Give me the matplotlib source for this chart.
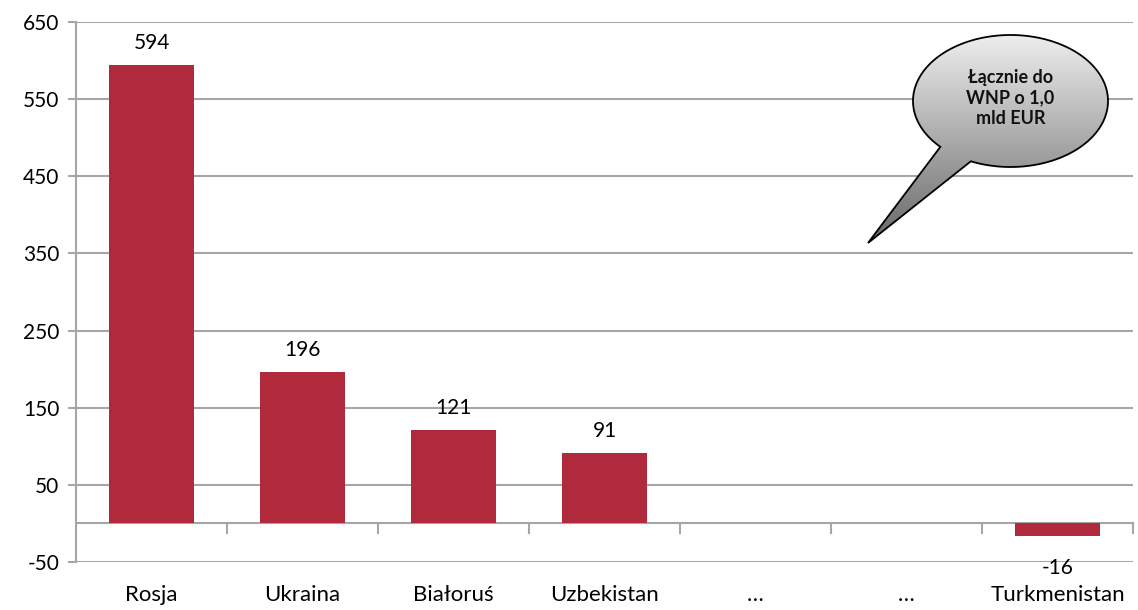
import numpy as np
import matplotlib
matplotlib.use("Agg")
import matplotlib.pyplot as plt
from matplotlib.path import Path
from matplotlib.patches import PathPatch

plt.rcParams['font.family'] = ['Lato', 'DejaVu Sans']

categories = ["Rosja", "Ukraina", "Białoruś", "Uzbekistan", "…", "…", "Turkmenistan"]
values = [594, 196, 121, 91, None, None, -16]
yticks = [-50, 50, 150, 250, 350, 450, 550, 650]
bubble_text = "Łącznie do\nWNP o 1,0\nmld EUR"

W, H = 1138, 610
fig = plt.figure(figsize=(W / 100, H / 100), dpi=100)
ax = fig.add_axes([76 / W, 1 - 562 / H, (1133 - 76) / W, (562 - 22) / H])

bar_color = "#B0293D"
grid_color = "#A6A6A6"
x = np.arange(len(categories))
for xi, v in zip(x, values):
    if v is None:
        continue
    ax.bar(xi, v, width=0.56, color=bar_color, zorder=3)
    if v >= 0:
        ax.text(xi, v + 29, str(v), ha="center", va="center", fontsize=15, zorder=4)
    else:
        ax.text(xi, -58, str(v), ha="center", va="center", fontsize=15, zorder=4)

ax.set_xlim(-0.5, len(categories) - 0.5)
ax.set_ylim(-50, 650)
ax.set_yticks(yticks)
ax.set_yticklabels([str(t) for t in yticks], fontsize=15)
ax.tick_params(axis="y", length=6, color=grid_color, width=1.5, pad=6)
for t in yticks:
    ax.axhline(t, color=grid_color, lw=1.5, zorder=1)
ax.axhline(0, color=grid_color, lw=1.5, zorder=2)

# x tick marks at category boundaries on the zero line
for b in np.arange(0.5, len(categories), 1.0):
    ax.plot([b, b], [0, -12], color=grid_color, lw=1.5, zorder=2, clip_on=False)
ax.set_xticks([])
for xi, c in zip(x, categories):
    ax.text(xi, -93, c, ha="center", va="center", fontsize=16)

for s in ["top", "right", "bottom"]:
    ax.spines[s].set_visible(False)
ax.spines["left"].set_color(grid_color)
ax.spines["left"].set_linewidth(1.5)

# Callout bubble in pixel coordinates (figure overlay)
ov = fig.add_axes([0, 0, 1, 1], zorder=10)
ov.set_xlim(0, W)
ov.set_ylim(H, 0)
ov.axis("off")
ov.patch.set_alpha(0)

cx, cy, rx, ry = 1010.5, 101, 97.5, 66
tip = (868, 243)
a1, a2 = np.deg2rad(114), np.deg2rad(136)
th = np.linspace(a2, a1 + 2 * np.pi, 300)
pts = [(cx + rx * np.cos(t), cy + ry * np.sin(t)) for t in th]
pts.append(tip)
pts.append(pts[0])
codes = [Path.MOVETO] + [Path.LINETO] * (len(pts) - 2) + [Path.CLOSEPOLY]
path = Path(pts, codes)

grad = np.linspace(0, 1, 256).reshape(-1, 1)
top_c = np.array([0.94, 0.94, 0.94])
bot_c = np.array([0.40, 0.40, 0.40])
img = top_c + (bot_c - top_c) * grad
im = ov.imshow(img[:, None, :].repeat(2, axis=1),
               extent=(860, cx + rx + 3, 246, cy - ry - 3),
               aspect="auto", zorder=1, interpolation="bilinear")
patch = PathPatch(path, facecolor="none", edgecolor="black", lw=1.3, zorder=2)
ov.add_patch(patch)
im.set_clip_path(patch)
ov.set_xlim(0, W)
ov.set_ylim(H, 0)
ov.text(cx, cy - 3, bubble_text, ha="center", va="center", fontsize=13,
        fontweight="bold", linespacing=1.25, zorder=3, color="#111111")

fig.savefig("out.png", dpi=100)
